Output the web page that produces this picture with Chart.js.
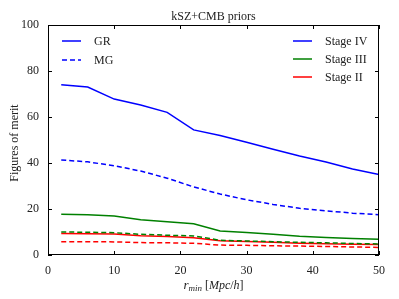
<!DOCTYPE html>
<html>
<head>
<meta charset="utf-8">
<script src="https://cdn.jsdelivr.net/npm/chart.js@4.4.0/dist/chart.umd.min.js"></script>
<style>html,body{margin:0;padding:0;background:#fff;}</style>
</head>
<body>
<canvas id="foms" width="399" height="299"></canvas>
<script>
// r_min values (Mpc/h)
const rmin = [2, 6, 10, 14, 18, 22, 26, 30, 34, 38, 42, 46, 50];

// figures of merit
const stage4GR  = [74, 73, 67.8, 65.2, 62, 54.4, 52, 49, 46, 43, 40.4, 37.4, 35];
const stage4MG  = [41.3, 40.5, 38.8, 36.5, 33.4, 29.6, 26.5, 24, 22, 20.3, 19.2, 18.2, 17.5];
const stage3GR  = [17.7, 17.5, 17, 15.3, 14.5, 13.6, 10.4, 9.8, 9, 8.1, 7.6, 7.2, 6.9];
const stage3MG  = [10, 9.9, 9.7, 9, 8.6, 8.3, 6.4, 6.1, 5.8, 5.5, 5.3, 5.0, 4.8];
const stage2GR  = [9.3, 9.2, 9.1, 8.4, 8, 7.5, 6.2, 5.9, 5.5, 5.1, 4.9, 4.7, 4.6];
const stage2MG  = [5.8, 5.8, 5.7, 5.4, 5.3, 5.1, 4.3, 4.2, 4.0, 3.9, 3.7, 3.5, 3.3];

const xTicks = [0, 10, 20, 30, 40, 50];
const yTicks = [0, 20, 40, 60, 80, 100];

const BLUE = '#0000ff', GREEN = '#008000', RED = '#ff0000';
const SERIF = '"Liberation Serif", "DejaVu Serif", serif';

function pts(ys) {
    return rmin.map((x, i) => ({ x: x, y: ys[i] }));
}

function series(label, ys, color, dashed) {
    return {
        label: label,
        data: pts(ys),
        borderColor: color,
        borderWidth: 1.5,
        borderDash: dashed ? [5, 3] : [],
        pointRadius: 0,
        fill: false,
        tension: 0
    };
}

// inward ticks on all sides, title, axis labels and the two legends
const decor = {
    id: 'decor',
    afterDraw(chart) {
        const ctx = chart.ctx;
        const a = chart.chartArea;
        const xs = chart.scales.x, ys = chart.scales.y;
        ctx.save();
        ctx.strokeStyle = '#000';
        ctx.lineWidth = 1;
        ctx.strokeRect(a.left + 0.5, a.top + 0.5, a.right - a.left - 1, a.bottom - a.top - 1);
        ctx.beginPath();
        xTicks.forEach(v => {
            const px = Math.round(xs.getPixelForValue(v)) + 0.5;
            ctx.moveTo(px, a.bottom); ctx.lineTo(px, a.bottom - 4);
            ctx.moveTo(px, a.top); ctx.lineTo(px, a.top + 4);
        });
        yTicks.forEach(v => {
            const py = Math.round(ys.getPixelForValue(v)) + 0.5;
            ctx.moveTo(a.left, py); ctx.lineTo(a.left + 4, py);
            ctx.moveTo(a.right, py); ctx.lineTo(a.right - 4, py);
        });
        ctx.stroke();

        const cx = (a.left + a.right) / 2;
        ctx.fillStyle = '#222';
        ctx.font = '12px ' + SERIF;
        ctx.textAlign = 'center';
        ctx.textBaseline = 'alphabetic';
        ctx.fillText('kSZ+CMB priors', cx, a.top - 5);

        // y axis title
        ctx.save();
        ctx.translate(18, (a.top + a.bottom) / 2 + 3);
        ctx.rotate(-Math.PI / 2);
        ctx.fillText('Figures of merit', 0, 0);
        ctx.restore();

        // x axis title: r_min [Mpc/h]
        const parts = [
            { t: 'r', f: 'italic 13px ' + SERIF, dy: 0 },
            { t: 'min', f: 'italic 9px ' + SERIF, dy: 2 },
            { t: ' [', f: '12px ' + SERIF, dy: 0 },
            { t: 'Mpc', f: 'italic 12px ' + SERIF, dy: 0 },
            { t: '/', f: '12px ' + SERIF, dy: 0 },
            { t: 'h', f: 'italic 12px ' + SERIF, dy: 0 },
            { t: ']', f: '12px ' + SERIF, dy: 0 }
        ];
        let w = 0;
        parts.forEach(p => { ctx.font = p.f; p.w = ctx.measureText(p.t).width; w += p.w; });
        let x = cx - w / 2;
        ctx.textAlign = 'left';
        parts.forEach(p => { ctx.font = p.f; ctx.fillText(p.t, x, 289 + p.dy); x += p.w; });

        // legends
        function entry(lx, ly, color, dashed, text) {
            ctx.beginPath();
            ctx.strokeStyle = color;
            ctx.lineWidth = 1.5;
            ctx.setLineDash(dashed ? [5, 3] : []);
            ctx.moveTo(lx, ly); ctx.lineTo(lx + 19, ly);
            ctx.stroke();
            ctx.setLineDash([]);
            ctx.fillStyle = '#222';
            ctx.font = '12px ' + SERIF;
            ctx.textAlign = 'left';
            ctx.textBaseline = 'middle';
            ctx.fillText(text, lx + 32, ly + 1);
        }
        entry(62, 41, BLUE, false, 'GR');
        entry(62, 60, BLUE, true, 'MG');
        entry(293, 41, BLUE, false, 'Stage IV');
        entry(293, 59, GREEN, false, 'Stage III');
        entry(293, 77, RED, false, 'Stage II');
        ctx.restore();
    }
};

new Chart(document.getElementById('foms'), {
    type: 'line',
    data: {
        datasets: [
            series('Stage IV GR', stage4GR, BLUE, false),
            series('Stage IV MG', stage4MG, BLUE, true),
            series('Stage III GR', stage3GR, GREEN, false),
            series('Stage III MG', stage3MG, GREEN, true),
            series('Stage II GR', stage2GR, RED, false),
            series('Stage II MG', stage2MG, RED, true)
        ]
    },
    options: {
        responsive: false,
        animation: false,
        layout: { padding: { top: 25, right: 20, left: 0, bottom: 0 } },
        plugins: { legend: { display: false }, title: { display: false }, tooltip: { enabled: false } },
        scales: {
            x: {
                type: 'linear',
                min: 0, max: 50,
                grid: { display: false },
                border: { display: false },
                afterBuildTicks: s => { s.ticks = xTicks.map(v => ({ value: v })); },
                afterFit: s => { s.height = 44; },
                ticks: { color: '#222', font: { family: SERIF, size: 12 }, padding: 1, maxRotation: 0 }
            },
            y: {
                min: 0, max: 100,
                grid: { display: false },
                border: { display: false },
                afterBuildTicks: s => { s.ticks = yTicks.map(v => ({ value: v })); },
                afterFit: s => { s.width = 48; },
                ticks: { color: '#222', font: { family: SERIF, size: 12 }, padding: 1 }
            }
        }
    },
    plugins: [decor]
});
</script>
</body>
</html>
